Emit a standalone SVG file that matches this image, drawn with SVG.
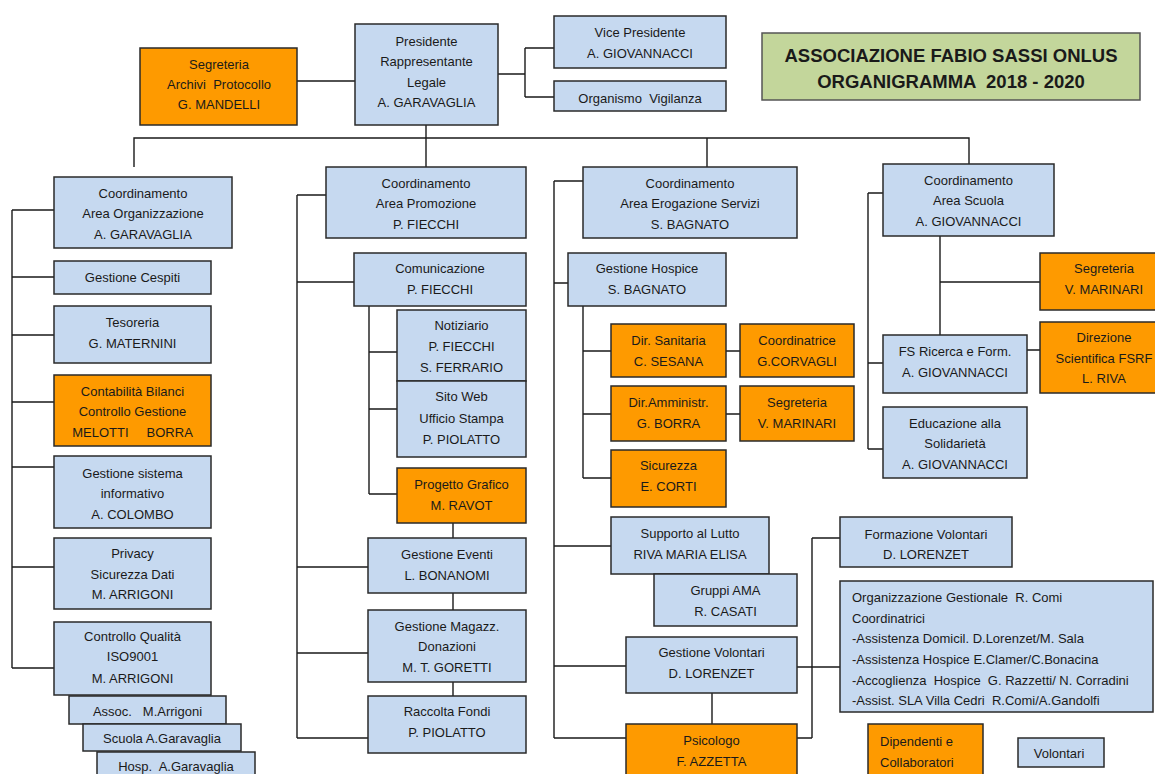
<svg xmlns="http://www.w3.org/2000/svg" width="1155" height="774" viewBox="0 0 1155 774">
<style>
rect{stroke:#2a2a2a;stroke-width:1.5}
rect.bg{fill:#fff;stroke:none}
.b{fill:#c6d9f0}
.o{fill:#fe9a00}
.g{fill:#c3d69b;stroke:#555}
text{font-family:"Liberation Sans",Arial,sans-serif;font-size:13px;fill:#1a1a1a;text-anchor:middle;white-space:pre}
.l{text-anchor:start}
.tt{font-size:18.5px;font-weight:bold}
#connectors path{fill:none;stroke:#1a1a1a;stroke-width:1.4}
</style>
<rect class="bg" width="1155" height="774"/>
<g id="connectors">
<path d="M297 81H355M498 74H525M525 48V97M525 48H554M525 97H554"/>
<path d="M134 167V138H969V164M426 125V167M707 138V167"/>
<path d="M12 210V668M12 210H54M12 277H54M12 335H54M12 402H54M12 467H54M12 567H54M12 668H54"/>
<path d="M297 195V738M297 195H326M297 282H354M297 567H368M297 653H368M297 738H368"/>
<path d="M369 306V494M369 352H397M369 409H397M369 494H397M453 523V538M453 593V610M453 682V696"/>
<path d="M554 181V738M554 181H583M554 283H568M554 546H611M554 666H626M554 738H626"/>
<path d="M583 306V478M583 351H611M583 414H611M583 478H611M726 351H740M726 414H740M712 693V724"/>
<path d="M812 538V738M812 538H840M797 667H840M797 738H812"/>
<path d="M868 193V449M868 193H883M868 363H883M868 449H883M940 236V335M940 282H1040M1027 350H1040"/>
</g>
<g id="title"><rect class="g" x="762" y="33" width="378" height="67"/><text class="tt" x="951" y="62">ASSOCIAZIONE FABIO SASSI ONLUS</text><text class="tt" x="951" y="88">ORGANIGRAMMA  2018 - 2020</text></g>
<g id="segreteria-top"><rect class="o" x="140" y="48" width="157" height="77"/><text x="219" y="68.5">Segreteria</text><text x="219" y="88.5">Archivi  Protocollo</text><text x="219" y="108.5">G. MANDELLI</text></g>
<g id="presidente"><rect class="b" x="355" y="24" width="143" height="101"/><text x="426.5" y="45.5">Presidente</text><text x="426.5" y="66">Rappresentante</text><text x="426.5" y="86.5">Legale</text><text x="426.5" y="106.5">A. GARAVAGLIA</text></g>
<g id="vice"><rect class="b" x="554" y="16" width="172" height="52"/><text x="640" y="36.5">Vice Presidente</text><text x="640" y="57.5">A. GIOVANNACCI</text></g>
<g id="organismo"><rect class="b" x="554" y="81" width="172" height="30"/><text x="640" y="102.5">Organismo  Vigilanza</text></g>

<g id="coord-org"><rect class="b" x="54" y="177" width="178" height="71"/><text x="143" y="197.5">Coordinamento</text><text x="143" y="217.5">Area Organizzazione</text><text x="143" y="238.5">A. GARAVAGLIA</text></g>
<g id="cespiti"><rect class="b" x="54" y="261" width="157" height="33"/><text x="132.5" y="281.5">Gestione Cespiti</text></g>
<g id="tesoreria"><rect class="b" x="54" y="306" width="157" height="57"/><text x="132.5" y="326.5">Tesoreria</text><text x="132.5" y="347.5">G. MATERNINI</text></g>
<g id="contabilita"><rect class="o" x="54" y="375" width="157" height="71"/><text x="132.5" y="395.5">Contabilità Bilanci</text><text x="132.5" y="415.5">Controllo Gestione</text><text x="132.5" y="436.5">MELOTTI     BORRA</text></g>
<g id="sistema"><rect class="b" x="54" y="456" width="157" height="72"/><text x="132.5" y="477.5">Gestione sistema</text><text x="132.5" y="497.5">informativo</text><text x="132.5" y="518.5">A. COLOMBO</text></g>
<g id="privacy"><rect class="b" x="54" y="538" width="157" height="71"/><text x="132.5" y="557.5">Privacy</text><text x="132.5" y="578.5">Sicurezza Dati</text><text x="132.5" y="598.5">M. ARRIGONI</text></g>
<g id="qualita"><rect class="b" x="54" y="622" width="157" height="73"/><text x="132.5" y="640.5">Controllo Qualità</text><text x="132.5" y="660.5">ISO9001</text><text x="132.5" y="682.5">M. ARRIGONI</text></g>
<g id="assoc"><rect class="b" x="69" y="696" width="157" height="28"/><text x="147.5" y="715.5">Assoc.   M.Arrigoni</text></g>
<g id="scuola"><rect class="b" x="83" y="724" width="158" height="27"/><text x="162" y="742.5">Scuola A.Garavaglia</text></g>
<g id="hosp"><rect class="b" x="97" y="752" width="158" height="30"/><text x="176" y="770.5">Hosp.  A.Garavaglia</text></g>

<g id="coord-promo"><rect class="b" x="326" y="167" width="200" height="71"/><text x="426" y="187.5">Coordinamento</text><text x="426" y="207.5">Area Promozione</text><text x="426" y="228.5">P. FIECCHI</text></g>
<g id="comunicazione"><rect class="b" x="354" y="253" width="172" height="53"/><text x="440" y="272.5">Comunicazione</text><text x="440" y="293.5">P. FIECCHI</text></g>
<g id="notiziario"><rect class="b" x="397" y="310" width="129" height="71"/><text x="461.5" y="329.5">Notiziario</text><text x="461.5" y="350.5">P. FIECCHI</text><text x="461.5" y="371.5">S. FERRARIO</text></g>
<g id="sitoweb"><rect class="b" x="397" y="381" width="129" height="76"/><text x="461.5" y="400.5">Sito Web</text><text x="461.5" y="422.5">Ufficio Stampa</text><text x="461.5" y="443.5">P. PIOLATTO</text></g>
<g id="progetto"><rect class="o" x="397" y="468" width="129" height="55"/><text x="461.5" y="488.5">Progetto Grafico</text><text x="461.5" y="509.5">M. RAVOT</text></g>
<g id="eventi"><rect class="b" x="368" y="538" width="158" height="55"/><text x="447" y="558.5">Gestione Eventi</text><text x="447" y="579.5">L. BONANOMI</text></g>
<g id="magazz"><rect class="b" x="368" y="610" width="158" height="72"/><text x="447" y="630.5">Gestione Magazz.</text><text x="447" y="650.5">Donazioni</text><text x="447" y="671.5">M. T. GORETTI</text></g>
<g id="raccolta"><rect class="b" x="368" y="696" width="158" height="57"/><text x="447" y="715.5">Raccolta Fondi</text><text x="447" y="736.5">P. PIOLATTO</text></g>

<g id="coord-erog"><rect class="b" x="583" y="167" width="214" height="71"/><text x="690" y="187.5">Coordinamento</text><text x="690" y="207.5">Area Erogazione Servizi</text><text x="690" y="228.5">S. BAGNATO</text></g>
<g id="hospice"><rect class="b" x="568" y="253" width="158" height="53"/><text x="647" y="272.5">Gestione Hospice</text><text x="647" y="293.5">S. BAGNATO</text></g>
<g id="dir-san"><rect class="o" x="611" y="324" width="115" height="53"/><text x="668.5" y="344.5">Dir. Sanitaria</text><text x="668.5" y="365.5">C. SESANA</text></g>
<g id="coordinatrice"><rect class="o" x="740" y="324" width="114" height="53"/><text x="797" y="344.5">Coordinatrice</text><text x="797" y="365.5">G.CORVAGLI</text></g>
<g id="dir-amm"><rect class="o" x="611" y="386" width="115" height="55"/><text x="668.5" y="406.5">Dir.Amministr.</text><text x="668.5" y="427.5">G. BORRA</text></g>
<g id="seg-hosp"><rect class="o" x="740" y="386" width="114" height="55"/><text x="797" y="406.5">Segreteria</text><text x="797" y="427.5">V. MARINARI</text></g>
<g id="sicurezza"><rect class="o" x="611" y="450" width="115" height="57"/><text x="668.5" y="469.5">Sicurezza</text><text x="668.5" y="490.5">E. CORTI</text></g>
<g id="lutto"><rect class="b" x="611" y="517" width="158" height="57"/><text x="690" y="537.5">Supporto al Lutto</text><text x="690" y="558.5">RIVA MARIA ELISA</text></g>
<g id="ama"><rect class="b" x="654" y="574" width="143" height="52"/><text x="725.5" y="594.5">Gruppi AMA</text><text x="725.5" y="615.5">R. CASATI</text></g>
<g id="gest-vol"><rect class="b" x="626" y="637" width="171" height="56"/><text x="711.5" y="656.5">Gestione Volontari</text><text x="711.5" y="677.5">D. LORENZET</text></g>
<g id="psicologo"><rect class="o" x="626" y="724" width="171" height="58"/><text x="711.5" y="744.5">Psicologo</text><text x="711.5" y="765.5">F. AZZETTA</text></g>

<g id="formazione"><rect class="b" x="840" y="517" width="172" height="50"/><text x="926" y="538.5">Formazione Volontari</text><text x="926" y="558.5">D. LORENZET</text></g>
<g id="org-gest"><rect class="b" x="840" y="581" width="313" height="131"/><text class="l" x="852" y="601.5">Organizzazione Gestionale  R. Comi</text><text class="l" x="852" y="622.5">Coordinatrici</text><text class="l" x="852" y="642.5">-Assistenza Domicil. D.Lorenzet/M. Sala</text><text class="l" x="852" y="663.5">-Assistenza Hospice E.Clamer/C.Bonacina</text><text class="l" x="852" y="684.5">-Accoglienza  Hospice  G. Razzetti/ N. Corradini</text><text class="l" x="852" y="705">-Assist. SLA Villa Cedri  R.Comi/A.Gandolfi</text></g>
<g id="dipendenti"><rect class="o" x="868" y="724" width="115" height="58"/><text class="l" x="880" y="745.5">Dipendenti e</text><text class="l" x="880" y="766.5">Collaboratori</text></g>
<g id="volontari"><rect class="b" x="1018" y="738" width="86" height="29"/><text x="1059" y="757.5">Volontari</text></g>

<g id="coord-scuola"><rect class="b" x="883" y="164" width="171" height="72"/><text x="968.5" y="184.5">Coordinamento</text><text x="968.5" y="204.5">Area Scuola</text><text x="968.5" y="225.5">A. GIOVANNACCI</text></g>
<g id="seg-scuola"><rect class="o" x="1040" y="253" width="130" height="57"/><text x="1104" y="272.5">Segreteria</text><text x="1104" y="293.5">V. MARINARI</text></g>
<g id="fs-ricerca"><rect class="b" x="883" y="335" width="144" height="58"/><text x="955" y="355.5">FS Ricerca e Form.</text><text x="955" y="376.5">A. GIOVANNACCI</text></g>
<g id="direzione"><rect class="o" x="1040" y="322" width="130" height="71"/><text x="1104" y="341.5">Direzione</text><text x="1104" y="362.5">Scientifica FSRF</text><text x="1104" y="382.5">L. RIVA</text></g>
<g id="educazione"><rect class="b" x="883" y="407" width="144" height="71"/><text x="955" y="427.5">Educazione alla</text><text x="955" y="447.5">Solidarietà</text><text x="955" y="468.5">A. GIOVANNACCI</text></g>
</svg>
